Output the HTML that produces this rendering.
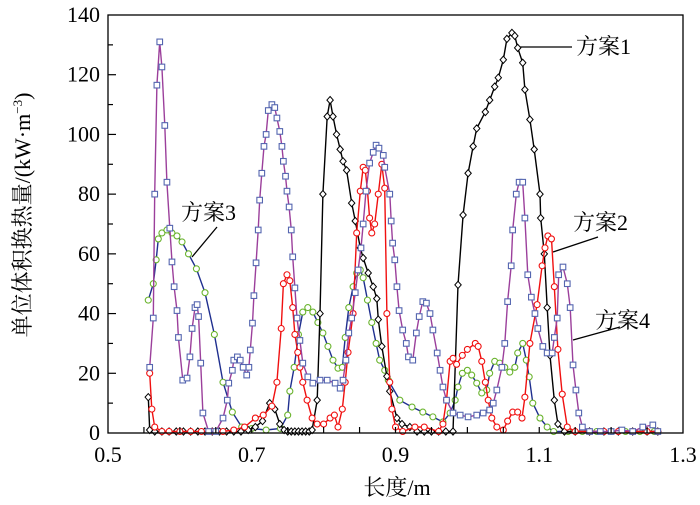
<!DOCTYPE html>
<html><head><meta charset="utf-8"><style>
body{margin:0;background:#fff;}
svg{display:block;font-family:"Liberation Serif","Noto Serif CJK SC",serif;}
</style></head><body>
<svg id="chart" width="700" height="505" viewBox="0 0 700 505" xmlns="http://www.w3.org/2000/svg">
<rect x="0" y="0" width="700" height="505" fill="#fff"/>
<g id="series"></g>
<rect x="108" y="15" width="575" height="418" fill="none" stroke="#000" stroke-width="1.3"/>
<g id="axes"></g>
<text x="397" y="495" font-size="22" text-anchor="middle">长度/m</text>
<text transform="translate(30,215) rotate(-90)" font-size="22" text-anchor="middle">单位体积换热量/(kW·m<tspan font-size="13" dy="-8">−3</tspan><tspan dy="8">)</tspan></text>
<g font-size="22" stroke-width="1.3">
<line x1="520" y1="47" x2="572" y2="47" stroke="#000"/>
<text x="576" y="54">方案1</text>
<line x1="553" y1="252" x2="598" y2="237" stroke="#000"/>
<text x="573" y="230">方案2</text>
<line x1="192" y1="257" x2="217" y2="227" stroke="#000"/>
<text x="181" y="220">方案3</text>
<line x1="573" y1="340" x2="620" y2="327" stroke="#000"/>
<text x="595" y="328">方案4</text>
</g>
</svg>
<script>
const xTicks=[0.5,0.7,0.9,1.1,1.3];
const xTickLabels=["0.5","0.7","0.9","1.1","1.3"];
const yTicks=[0,20,40,60,80,100,120,140];
const yTickLabels=["0","20","40","60","80","100","120","140"];

const s1x=[0.556,0.558,0.565,0.575,0.585,0.595,0.605,0.615,0.625,0.635,0.645,0.655,0.665,0.675,0.685,0.695,0.705,0.715,0.725,0.732,0.739,0.745,0.75,0.755,0.76,0.765,0.77,0.775,0.78,0.784,0.791,0.795,0.799,0.805,0.809,0.813,0.818,0.823,0.827,0.832,0.839,0.844,0.851,0.855,0.862,0.869,0.874,0.876,0.881,0.888,0.892,0.902,0.909,0.92,0.93,0.94,0.95,0.96,0.97,0.98,0.987,0.994,1.001,1.008,1.013,1.025,1.031,1.038,1.043,1.05,1.055,1.062,1.066,1.07,1.077,1.08,1.087,1.093,1.101,1.102,1.107,1.111,1.115,1.121,1.126,1.135,1.15,1.17,1.19,1.21,1.23,1.25,1.265];
const s1y=[12,1,0.5,0.5,0.5,0.5,0.5,0.5,0.5,0.5,0.5,0.5,0.5,0.5,0.5,1,2,4,10,8,3,1,0.5,0.5,0.5,0.5,0.5,0.5,0.5,1,11,40,80,106,111.5,106,100,95,91,88,77,71,62,58.6,53.6,49,45,38,29,19,14,5,3,2,0.5,0.5,0.5,0.5,0.5,0.5,49.6,73,87,96,102,107.5,111.5,116,119,125,132,134,133,129,124,115,105,95,80,72,60,42,26,11,3,0.5,0.5,0.5,0.5,0.5,0.5,0.5,0.5];

const s2x=[0.558,0.561,0.565,0.575,0.585,0.6,0.615,0.63,0.645,0.66,0.675,0.69,0.705,0.716,0.728,0.735,0.741,0.744,0.749,0.753,0.757,0.76,0.764,0.767,0.771,0.777,0.784,0.791,0.8,0.809,0.815,0.82,0.826,0.83,0.834,0.841,0.846,0.851,0.855,0.858,0.861,0.864,0.867,0.871,0.876,0.881,0.885,0.888,0.892,0.895,0.9,0.91,0.927,0.94,0.96,0.966,0.971,0.976,0.98,0.985,0.993,1.0,1.011,1.015,1.02,1.025,1.029,1.034,1.041,1.05,1.056,1.063,1.07,1.076,1.08,1.087,1.097,1.104,1.108,1.112,1.117,1.121,1.126,1.132,1.139,1.15,1.17,1.19,1.21,1.23,1.25,1.265];
const s2y=[20,8,2,0.5,0.5,0.5,0.5,0.5,0.5,0.5,1,2,5,6,9,17,35,50,53,51,42,33,27,22,17,11,5,3,3,5,6,2,8,17,27,40,67,81,89,88,81,72,67,70,80,90,82,40,17,8,2,0.5,2,2,0.5,3,11,24,25,23,26,28,30,29,24,17,11,5,2,1,4,7,7,5,12,30,43,56,62,66,65,49,28,13,2,0.5,0.5,0.5,0.5,0.5,0.5,0.5];

const s3x=[0.556,0.563,0.567,0.57,0.575,0.582,0.589,0.596,0.603,0.612,0.623,0.635,0.648,0.66,0.673,0.686,0.7,0.72,0.74,0.75,0.753,0.759,0.765,0.771,0.778,0.785,0.792,0.799,0.806,0.813,0.82,0.826,0.83,0.835,0.841,0.846,0.851,0.855,0.861,0.867,0.873,0.878,0.885,0.89,0.906,0.923,0.938,0.952,0.966,0.976,0.983,0.987,0.993,1.0,1.006,1.013,1.02,1.027,1.031,1.038,1.045,1.052,1.059,1.066,1.07,1.077,1.082,1.086,1.091,1.101,1.111,1.12,1.14,1.16,1.18,1.2,1.22,1.24,1.26];
const s3y=[44.5,50,58,65,67,68,67,66,64,60,55,47,33,17,7,2,1.5,1,1.5,6,14,22,33,40.5,42,40.5,37,33.5,29,24.4,21.7,22,32,42,49,53.6,54.6,52,44.5,37,30,24.4,21,17.7,11,8.7,7,5.4,3.7,6.7,11,15.4,20,21,19.4,16.7,13.4,14.4,20,24,23.4,22,20.4,22,26.8,30,24.4,18.8,10,5,2,0.5,0.5,0.5,0.5,0.5,0.5,0.5,0.5];

const s4x=[0.558,0.563,0.565,0.568,0.572,0.575,0.579,0.582,0.586,0.589,0.592,0.596,0.598,0.604,0.61,0.614,0.617,0.621,0.624,0.626,0.629,0.632,0.64,0.65,0.66,0.666,0.668,0.673,0.675,0.68,0.684,0.688,0.693,0.696,0.698,0.701,0.703,0.706,0.709,0.711,0.714,0.717,0.72,0.723,0.728,0.732,0.735,0.739,0.742,0.744,0.747,0.749,0.752,0.755,0.757,0.76,0.763,0.767,0.771,0.778,0.785,0.795,0.805,0.816,0.823,0.827,0.831,0.835,0.839,0.844,0.848,0.852,0.855,0.859,0.864,0.869,0.873,0.877,0.883,0.885,0.892,0.894,0.896,0.899,0.902,0.905,0.91,0.915,0.918,0.924,0.929,0.933,0.938,0.943,0.948,0.952,0.958,0.962,0.966,0.971,0.98,0.99,1.001,1.013,1.022,1.031,1.036,1.041,1.048,1.052,1.056,1.061,1.063,1.068,1.072,1.077,1.08,1.084,1.089,1.094,1.098,1.105,1.111,1.118,1.121,1.125,1.127,1.133,1.139,1.143,1.147,1.151,1.155,1.16,1.17,1.185,1.2,1.215,1.23,1.244,1.258,1.265];
const s4y=[22,38.5,80,116.5,131,122.6,103,84,68.6,57.3,49,41,32,17.7,18.4,25.5,35,42,43,39,23.4,6.7,0.5,0.5,5,11,16.7,21,24.4,25.5,24.4,22,19.4,22,27.8,36.8,46,57,68,78,87,96,100,108,110,109,105.5,101,96,91,86,81,75.7,68,59,48.6,38.5,31,23.4,18.8,16.7,17.7,17.7,16.7,15,17.7,24.4,33.5,38.5,47,54.6,62,70,81,90.4,94,96.4,95.4,93,89,80,71,63.6,58,49,41,34.5,30,25.5,24.4,33.5,39,44,43.5,40,34.5,26.8,21,15.4,11,6.7,6,5.4,6,6.7,7.7,10,14.4,22,30,44,56,68,80,84,84,72,53,45.5,40,35,29,26.8,26.8,32,38.5,53,55.6,50,42,22.8,14.4,6.7,2,0.5,0.5,0.5,1,0.5,2,2.7,0.5];

const X0=108,X1=683,Y0=433,Y1=15;
function sx(v){return X0+(v-0.5)/(1.3-0.5)*(X1-X0);}
function sy(v){return Y0-(v-0)/(140-0)*(Y0-Y1);}
const NS="http://www.w3.org/2000/svg";
function mk(tag,attrs,parent){const e=document.createElementNS(NS,tag);for(const k in attrs)e.setAttribute(k,attrs[k]);parent.appendChild(e);return e;}
const axes=document.getElementById('axes');
for(let v=0.55;v<1.3;v+=0.05){
  const t=mk('line',{x1:sx(v),x2:sx(v),y1:Y0,y2:Y0-6,stroke:'#000','stroke-width':1.2},axes);
  
  
}
xTicks.forEach((v,i)=>{
  const t=mk('text',{x:sx(v),y:462,'font-size':22,'text-anchor':'middle'},axes);
  t.textContent=xTickLabels[i];
  
  
});
for(let v=10;v<140;v+=10){
  const t=mk('line',{x1:X0,x2:X0+(v%20===0?8:5),y1:sy(v),y2:sy(v),stroke:'#000','stroke-width':1.2},axes);
  
  
}
yTicks.forEach((v,i)=>{
  const t=mk('text',{x:100,y:sy(v)+7,'font-size':22,'text-anchor':'end'},axes);
  t.textContent=yTickLabels[i];
  
  
});
const layer=document.getElementById('series');
function drawSeries(xs,ys,line,mcol,shape,name){
  const g=mk('g',{},layer);
  
  
  const pts=xs.map((x,i)=>sx(x).toFixed(1)+','+sy(ys[i]).toFixed(1)).join(' ');
  const pl=mk('polyline',{points:pts,fill:'none',stroke:line,'stroke-width':1.4},g);
  
  
  xs.forEach((x,i)=>{
    const cx=sx(x),cy=sy(ys[i]);let m;
    if(shape==='d') m=mk('polygon',{points:`${cx},${cy-3.6} ${cx+3.2},${cy} ${cx},${cy+3.6} ${cx-3.2},${cy}`,fill:'#fff',stroke:mcol,'stroke-width':1},g);
    else if(shape==='s') m=mk('rect',{x:cx-2.8,y:cy-2.8,width:5.6,height:5.6,fill:'#fff',stroke:mcol,'stroke-width':1.1},g);
    else m=mk('circle',{cx:cx,cy:cy,r:3,fill:'#fff',stroke:mcol,'stroke-width':1.1},g);
    
    
  });
}
drawSeries(s3x,s3y,'#1f2f8f','#6ab42d','c','series-scheme-3');
drawSeries(s1x,s1y,'#000','#000','d','series-scheme-1');
drawSeries(s2x,s2y,'#f01010','#f01010','c','series-scheme-2');
drawSeries(s4x,s4y,'#9b3f9b','#5566b0','s','series-scheme-4');
</script>
</body></html>
